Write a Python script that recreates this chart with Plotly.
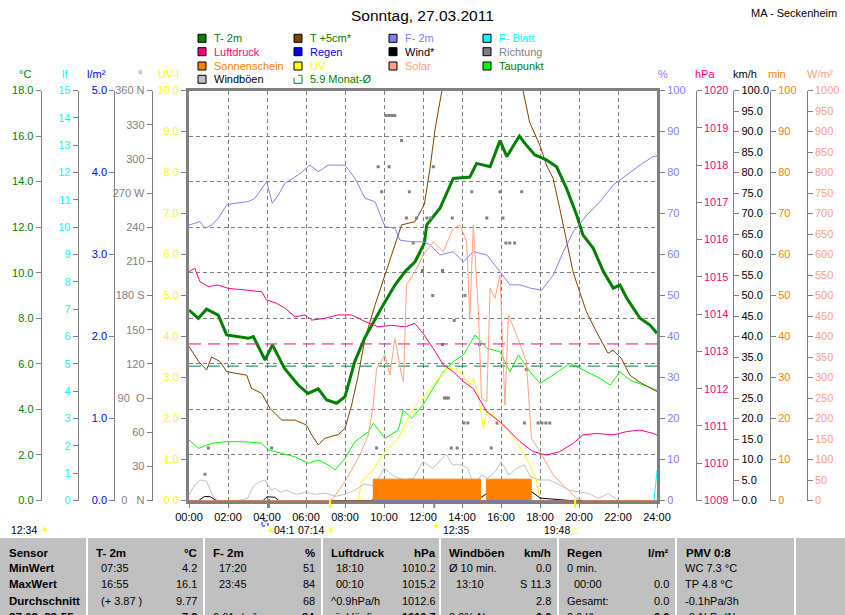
import plotly.graph_objects as go

W, H = 845, 615
def PX(x): return x / W
def PY(y): return 1 - y / H

FONT = "Liberation Sans, Arial, sans-serif"
GRAY = "#808080"

# ---------------- data (hours of day / values) ----------------
hour_ticks = list(range(0, 25, 2))
hour_labels = ["%02d:00" % h for h in hour_ticks]

t2m_h = [0, 0.48, 0.9, 1.5, 1.93, 3.04, 3.3, 3.9, 4.28, 4.9, 5.6, 6.1, 6.63, 7.06, 7.57, 8.0, 8.5, 9.0, 9.86, 10.56,
         11.08, 11.59, 12.07, 12.19, 12.87, 13.55, 14.4, 14.75, 15.44, 15.95, 16.3, 16.94, 17.3, 17.74, 18.34, 18.85,
         19.36, 19.88, 20.2, 20.73, 21.25, 21.76, 22.1, 22.45, 23.13, 23.64, 24.0]
t2m = [8.36, 8.0, 8.4, 8.14, 7.27, 7.12, 7.2, 6.17, 6.83, 5.8, 5.07, 4.7, 4.9, 4.41, 4.27, 4.56, 6.1, 7.12, 8.44, 9.46,
       10.05, 10.48, 11.3, 12.1, 12.83, 14.14, 14.2, 14.8, 14.65, 15.8, 15.1, 16.0, 15.6, 15.17, 14.95, 14.65,
       13.7, 12.53, 11.66, 11.07, 10.05, 9.32, 9.46, 8.88, 8.0, 7.7, 7.34]

t5_h = [0, 0.5, 0.9, 1.16, 1.59, 1.93, 2.96, 3.2, 3.73, 4.15, 4.75, 5.44, 6.03, 6.29, 6.63, 6.97, 7.66, 8.0, 8.34, 8.68,
        9.03, 9.54, 10.05, 10.56, 10.9, 11.59, 12.07, 12.36, 12.62, 12.96, 13.5, 14.5, 15.5, 16.5, 17.13, 17.47, 17.99,
        18.33, 18.67, 19.01, 19.35, 19.69, 20.03, 20.38, 20.8, 21.23, 21.49, 21.74, 22.17, 22.6, 23.1, 24.0]
t5 = [6.76, 6.1, 5.73, 6.3, 6.1, 5.66, 5.5, 4.93, 4.7, 4.05, 3.53, 3.53, 3.31, 2.88, 2.44, 2.73, 2.9, 3.17, 4.19, 5.5,
      7.13, 8.58, 9.9, 11.2, 12.1, 12.24, 13.0, 14.58, 16.3, 17.95, 21.0, 24.0, 24.5, 21.5, 18.0, 16.6, 15.6,
      14.73, 14.14, 12.83, 11.36, 10.05, 9.17, 8.29, 7.56, 6.83, 6.46, 6.6, 6.24, 5.51, 5.2, 4.78]

f2_h = [0, 0.56, 0.82, 1.16, 1.5, 1.93, 2.36, 3.04, 3.38, 3.73, 3.98, 4.27, 4.58, 4.92, 5.6, 6.2, 6.63, 7.14, 7.66, 8.0,
        8.51, 9.03, 9.54, 10.05, 10.56, 10.82, 11.42, 12.07, 12.36, 12.87, 13.55, 14.07, 14.58, 15.27, 15.95, 16.46,
        16.97, 17.49, 18.09, 18.68, 19.2, 19.71, 20.4, 21.08, 21.76, 22.45, 23.13, 23.8, 24.0]
f2 = [67.2, 68, 66.4, 67.2, 68.8, 72.1, 72.5, 72.9, 73.7, 76.1, 77.8, 72.5, 74.5, 77.4, 79.4, 81.8, 80.2, 81.8, 81.8, 81.8,
      78.6, 73.7, 72.9, 66.8, 66.4, 63.5, 63.1, 63.1, 62.3, 59.9, 60.7, 58.2, 60.7, 59.9, 55.8, 52.6,
      52.6, 51.8, 51.3, 55, 60.7, 65.6, 69.6, 72.9, 77, 79.4, 81.8, 83.9, 84]

p_h = [0, 0.3, 0.56, 0.99, 1.5, 2.02, 2.87, 3.73, 3.98, 4.5, 4.92, 5.44, 5.95, 6.29, 6.97, 7.66, 8.34, 9.03, 9.7, 10.39,
       11.08, 11.59, 12.0, 12.53, 13.04, 13.55, 14.07, 14.58, 15.27, 15.95, 16.46, 16.97, 17.65, 18.34, 19.0, 19.7,
       20.2, 20.9, 21.76, 22.45, 23.13, 23.8, 24.0]
p = [1015.14, 1015.23, 1014.87, 1014.74, 1014.78, 1014.69, 1014.65, 1014.6, 1014.38, 1014.29, 1014.16, 1013.93,
     1013.98, 1013.84, 1013.89, 1013.98, 1013.98, 1013.8, 1013.66, 1013.7, 1013.66, 1013.75, 1013.48, 1013.08,
     1012.64, 1012.46, 1012.19, 1012.0, 1011.38, 1011.11, 1010.85, 1010.58, 1010.31, 1010.22, 1010.31, 1010.53,
     1010.76, 1010.8, 1010.76, 1010.85, 1010.89, 1010.8, 1010.75]

dp_h = [0, 0.48, 1.16, 1.85, 2.87, 3.73, 4.07, 4.75, 5.44, 6.12, 6.63, 7.14, 7.49, 8.0, 8.51, 9.2, 9.45, 10.05, 10.73,
        10.99, 11.42, 12.0, 12.53, 13.04, 13.55, 14.07, 14.67, 15.27, 15.95, 16.46, 16.89, 17.49, 18.0, 18.68, 19.54,
        20.4, 21.08, 21.6, 22.1, 22.6, 23.3, 24.0]
dp = [2.66, 2.29, 2.51, 2.58, 2.58, 2.51, 2.22, 2.07, 1.92, 1.63, 1.78, 1.56, 1.34, 1.85, 2.58, 3.02, 3.39, 2.73, 3.09,
      3.97, 3.61, 4.2, 4.93, 5.65, 6.1, 6.39, 7.27, 6.68, 6.53, 5.65, 6.39, 5.65, 5.14, 5.51, 6.02,
      5.65, 5.36, 5.07, 5.65, 5.29, 5.07, 4.85]

sol_h = [0, 7.3, 8.0, 8.68, 9.2, 9.45, 9.62, 10.05, 10.3, 10.56, 10.9, 11.0, 11.15, 11.59, 12.0, 12.53, 13.04, 13.55,
         13.9, 14.24, 14.4, 14.58, 14.84, 15.0, 15.27, 15.44, 15.69, 15.95, 16.2, 16.38, 16.8, 17.3, 17.56, 18.0,
         18.68, 19.37, 19.88, 20.2, 24.0]
sol = [0, 0, 46, 103, 160, 233, 322, 355, 306, 396, 306, 290, 526, 558, 598, 631, 607, 664,
       672, 631, 444, 672, 461, 249, 241, 518, 493, 550, 233, 452, 404, 339, 152, 119,
       62, 30, 5, 0, 0]

uv_h = [8.68, 8.85, 9.37, 10.05, 10.73, 11.42, 12.0, 12.53, 13.21, 13.55, 13.9, 14.4, 14.58, 14.84, 15.1, 15.27,
        15.6, 15.95, 16.3, 16.8, 17.3, 17.8, 18.0]
uv = [0, 0.46, 0.7, 1.19, 1.52, 2.17, 2.5, 2.82, 3.22, 3.22, 3.14, 2.82, 2.98, 2.57, 1.76, 2.17,
      2.09, 1.84, 1.76, 1.43, 1.03, 0.54, 0]

gust_h = [0, 0.3, 0.6, 0.9, 1.2, 1.5, 2.0, 2.5, 3.0, 3.3, 3.6, 3.9, 4.2, 4.4, 4.7, 5.0, 5.5, 6.0, 6.5, 7.0, 7.5, 8.0,
          8.5, 9.0, 9.5, 10.0, 10.5, 11.0, 11.5, 12.0, 12.5, 13.0, 13.2, 13.5, 14.0, 14.3, 14.6, 15.0, 15.3, 15.7,
          16.0, 16.4, 16.8, 17.2, 17.5, 18.0, 18.5, 19.0, 19.5, 20.0, 20.5, 21.0, 21.5, 22.0, 23.0, 24.0]
gust = [1.3, 3.8, 5.0, 4.7, 1.3, 0, 0, 0, 0.5, 3.5, 4.5, 5.0, 2.5, 3.0, 2.0, 2.5, 1.5, 2.0, 1.5, 1.8, 1.0, 1.5,
        2.5, 4.0, 3.5, 7.8, 6.0, 5.0, 5.4, 9.5, 7.8, 10.3, 11.3, 8.7, 8.7, 7.8, 3.8, 6.2, 5.4, 7.0,
        9.5, 6.2, 7.8, 8.7, 5.8, 5.0, 5.0, 3.8, 2.5, 2.1, 1.7, 0.5, 1.7, 0, 0, 0]

wind_h = [0, 0.5, 0.8, 1.1, 1.4, 3.8, 4.0, 4.4, 4.6, 9.4, 9.6, 10.5, 11.5, 12.5, 13.5, 14.5, 14.9, 15.3, 16.0, 17.0,
          17.5, 18.0, 18.5, 19.5, 24]
wind = [0, 0, 1.0, 0.9, 0, 0, 0.9, 0.8, 0, 0, 1.5, 1.8, 1.8, 2.5, 2.2, 2.0, 0.5, 1.8, 2.0, 2.2,
        2.4, 0.6, 0.4, 0, 0]

sun_h = [0, 9.45, 14.95, 15.25, 17.55, 24]
sun_min = [0, 5.2, 0, 5.2, 0, 0]

rain_h = [0, 24]
rain = [0, 0]

leaf_h = [0, 23.85, 24.0]
leaf = [0, 0, 1.1]

dir_h = [0.82, 0.99, 4.24, 9.62, 9.70, 9.88, 10.10, 10.25, 10.40, 10.55, 10.26, 10.90, 11.15, 11.30, 11.50, 11.67,
         11.97, 12.20, 12.40, 12.50, 12.53, 13.00, 13.00, 13.10, 13.20, 13.30, 13.45, 13.50, 13.60, 13.75, 14.10,
         14.15, 14.30, 14.50, 14.90, 15.27, 15.50, 15.80, 15.95, 16.10, 16.25, 16.45, 16.70, 17.06, 17.20, 17.30,
         17.90, 18.10, 18.30, 18.50]
dir_deg = [23, 46, 46, 46, 293, 271, 338, 338, 338, 338, 293, 316, 248, 271, 226, 248, 202, 248, 248, 180, 293, 202,
           137, 90, 90, 90, 46, 248, 158, 46, 68, 180, 68, 271, 137, 248, 46, 68, 271, 248, 226, 226, 226, 271, 68,
           115, 68, 68, 68, 68]

month_avg_temp = 5.9
month_avg_press = 1013.2

for a, b in [(t2m_h, t2m), (t5_h, t5), (f2_h, f2), (p_h, p), (dp_h, dp), (sol_h, sol), (uv_h, uv),
             (gust_h, gust), (wind_h, wind), (sun_h, sun_min), (dir_h, dir_deg), (leaf_h, leaf)]:
    assert len(a) == len(b), (len(a), len(b))

dir_ticks = list(range(0, 361, 30))
dir_labels = ["0   N", "30", "60", "90  O", "120", "150", "180 S", "210", "240", "270 W", "300", "330", "360 N"]

# ---------------- figure ----------------
fig = go.Figure()

def line(x, y, color, yaxis, width=1, name="", dash=None, shape="linear"):
    fig.add_trace(go.Scatter(x=x, y=y, mode="lines", yaxis=yaxis, name=name, hoverinfo="skip",
                             line=dict(color=color, width=width, dash=dash, shape=shape)))

fig.add_trace(go.Scatter(x=rain_h, y=rain, mode="lines", yaxis="y3", line=dict(color="#0000FF", width=1)))
fig.add_trace(go.Scatter(x=sun_h, y=sun_min, mode="lines", yaxis="y9", fill="tozeroy", fillcolor="#FF8000",
                         line=dict(color="#FF8000", width=1, shape="hv")))
line(gust_h, gust, "#C0C0C0", "y8")
line(wind_h, wind, "#000000", "y8")
line(leaf_h, leaf, "#00FFFF", "y2")
fig.add_trace(go.Scatter(x=dir_h, y=dir_deg, mode="markers", yaxis="y4",
                         marker=dict(symbol="square", size=3, color=GRAY, line=dict(width=0))))
line(f2_h, f2, "#8080FF", "y6")
line(p_h, p, "#FF0080", "y7")
line(dp_h, dp, "#00FF00", "y")
line(sol_h, sol, "#FFA080", "y10")
line(uv_h, uv, "#FFFF00", "y5")
line(t5_h, t5, "#804000", "y")
line([0, 24], [month_avg_press] * 2, "#FF0080", "y7", dash="12px,7px")
line([0, 24], [month_avg_temp] * 2, "#008040", "y", dash="12px,7px")
line(t2m_h, t2m, "#008000", "y", width=3)

XD = [PX(189), PX(657)]
YD = [PY(500.5), PY(90.5)]

def yax(rng, dtick, color, side="left", position=None, anchor="free", fmt=None, tickvals=None, ticktext=None,
        lw=1, main=False):
    d = dict(range=rng, domain=YD, side=side, anchor=anchor, showline=True, linecolor=GRAY, linewidth=lw,
             ticks="outside", ticklen=5, tickcolor=GRAY, tickwidth=1, automargin=False,
             tickfont=dict(family=FONT, size=11, color=color), showgrid=False, zeroline=False, fixedrange=True)
    if position is not None:
        d["position"] = position
    if tickvals is not None:
        d["tickmode"] = "array"
        d["tickvals"] = tickvals
        d["ticktext"] = ticktext
    else:
        d["tick0"] = rng[0]
        d["dtick"] = dtick
    if fmt:
        d["tickformat"] = fmt
    if not main:
        d["overlaying"] = "y"
    return d

layout_axes = dict(
    xaxis=dict(domain=XD, range=[0, 24], tickmode="array", tickvals=hour_ticks, ticktext=hour_labels,
               showline=True, linewidth=3, linecolor=GRAY, mirror=True, ticks="outside", ticklen=4,
               tickcolor=GRAY, tickfont=dict(family=FONT, size=11, color="black"), showgrid=True,
               gridcolor=GRAY, griddash="4px,3px", gridwidth=1, zeroline=False, fixedrange=True, automargin=False),
    yaxis=yax([0, 18], 2, "#008000", position=PX(40.7), fmt=".1f", main=True),
    yaxis2=yax([0, 15], 1, "#00FFFF", position=PX(77.7)),
    yaxis3=yax([0, 5], 1, "#0000FF", position=PX(114.3), fmt=".1f"),
    yaxis4=yax([0, 360], 30, GRAY, position=PX(151.7), tickvals=dir_ticks, ticktext=dir_labels),
    yaxis5=yax([0, 10], 1, "#FFFF00", anchor="x", fmt=".1f", lw=3),
    yaxis6=yax([0, 100], 10, "#8080FF", side="right", anchor="x", lw=3),
    yaxis7=yax([1009, 1020], 1, "#FF0080", side="right", position=PX(695.7)),
    yaxis8=yax([0, 100], 5, "#000000", side="right", position=PX(733.3), fmt=".1f"),
    yaxis9=yax([0, 100], 10, "#FF8000", side="right", position=PX(770)),
    yaxis10=yax([0, 1000], 50, "#FFA080", side="right", position=PX(806.7)),
)
layout_axes["yaxis"]["showgrid"] = True
layout_axes["yaxis"]["gridcolor"] = GRAY
layout_axes["yaxis"]["griddash"] = "4px,3px"

ann = []
shapes = []

def text(x, y, s, color="black", size=11, anchor="left", bold=False, family=FONT):
    if bold:
        s = "<b>%s</b>" % s
    ann.append(dict(x=PX(x), y=PY(y), xref="paper", yref="paper", text=s, showarrow=False,
                    xanchor=anchor, yanchor="middle", font=dict(family=family, size=size, color=color),
                    borderpad=0))

# title
text(422, 15, "Sonntag, 27.03.2011", size=15.5, anchor="center")
text(838, 13, "MA - Seckenheim", size=11, anchor="right")

# axis unit titles
for x, s, c in [(25, "°C", "#008000"), (65, "lf", "#00FFFF"), (96, "l/m²", "#0000FF"), (140, "°", GRAY),
                (168, "UV-I", "#FFFF00"), (663, "%", "#8080FF"), (705, "hPa", "#FF0080"), (745, "km/h", "black"),
                (777, "min", "#FF8000"), (820, "W/m²", "#FFA080")]:
    text(x, 74, s, color=c, anchor="center")

# legend
legend = [
    (198, 38.3, "#008000", "T- 2m", "#008000"),
    (198, 51.7, "#FF0080", "Luftdruck", "#FF0080"),
    (198, 66.0, "#FF8000", "Sonnenschein", "#FF8000"),
    (198, 79.3, "#C0C0C0", "Windböen", "black"),
    (294, 38.3, "#804000", "T +5cm*", "#008000"),
    (294, 51.7, "#0000FF", "Regen", "#0000FF"),
    (294, 66.0, "#FFFF00", "UV", "#FFFF00"),
    (389, 38.3, "#8080FF", "F- 2m", "#8080FF"),
    (389, 51.7, "#000000", "Wind*", "black"),
    (389, 66.0, "#FFA080", "Solar", "#FFA080"),
    (483, 38.3, "#00FFFF", "F- Blatt", "#00FFFF"),
    (483, 51.7, "#808080", "Richtung", GRAY),
    (483, 66.0, "#00FF00", "Taupunkt", "#008000"),
]
for x, y, fc, s, tc in legend:
    shapes.append(dict(type="rect", xref="paper", yref="paper", x0=PX(x), x1=PX(x + 8), y0=PY(y + 4),
                       y1=PY(y - 4), fillcolor=fc, line=dict(color="black", width=1)))
    text(x + 14.5, y, s, color=tc)
# Monat-Ø icon
shapes.append(dict(type="path", xref="paper", yref="paper",
                   path="M %f,%f L %f,%f L %f,%f L %f,%f L %f,%f" % (
                       PX(298), PY(75.3), PX(302), PY(75.3), PX(302), PY(83.3), PX(294), PY(83.3), PX(294), PY(78)),
                   line=dict(color="#008040", width=1)))
text(308.5, 79.3, "5.9 Monat-Ø", color="#008000")

# sun / moon events under the time axis
event_h = [4.1, 7.23, 12.58, 19.8]
event_col = [GRAY, "#FFFF00", GRAY, "#FFFF00"]
for h, c in zip(event_h, event_col):
    shapes.append(dict(type="line", xref="x", yref="paper", x0=h, x1=h, y0=PY(499), y1=PY(508),
                       line=dict(color=c, width=2)))
EV_Y = 529.5
text(10, EV_Y, "12:34", size=10.5)
text(40, EV_Y - 1, "▲", color="#FFFF00", size=8)
shapes.append(dict(type="rect", xref="paper", yref="paper", x0=PX(262), x1=PX(268), y0=PY(526), y1=PY(521),
                   line=dict(color="#0000FF", width=1, dash="dot")))
text(266, EV_Y, "▲", color="#FFFF00", size=8)
text(273, EV_Y, "04:1", size=10.5)
text(297, EV_Y, "07:14", size=10.5)
text(325, EV_Y, "☀", color="#FFFF00", size=11)
text(431, EV_Y - 3, "▼", color="#FFFF00", size=8)
text(442, EV_Y, "12:35", size=10.5)
text(543, EV_Y, "19:48", size=10.5)
text(572, EV_Y + 1, "□", color="#FFFF00", size=9)

# bottom table
shapes.append(dict(type="rect", xref="paper", yref="paper", x0=0, x1=1, y0=PY(615), y1=PY(538),
                   fillcolor="#C0C0C0", line=dict(width=0), layer="below"))
for x in [87, 204, 322, 440, 558, 676, 795]:
    shapes.append(dict(type="line", xref="paper", yref="paper", x0=PX(x), x1=PX(x), y0=PY(615), y1=PY(538),
                       line=dict(color="white", width=2)))

row_y = [552.7, 568.3, 584.3, 600.7, 616.8]
row_labels = ["Sensor", "MinWert", "MaxWert", "Durchschnitt", "27.03. 23:55"]
for y, s in zip(row_y, row_labels):
    text(8, y, s, bold=True, size=11.5)

# columns: (left x for header, left x for rows, right x)
cols = [
    (95, 100, 198, "T- 2m", "°C",
     [("07:35", "4.2"), ("16:55", "16.1"), ("(+ 3.87 )", "9.77"), ("", "7.3")]),
    (212, 218, 316, "F- 2m", "%",
     [("17:20", "51"), ("23:45", "84"), ("", "68"), ("6.61g/m³", "84")]),
    (330, 335, 437, "Luftdruck", "hPa",
     [("18:10", "1010.2"), ("00:10", "1015.2"), ("^0.9hPa/h", "1012.6"), ("rückläufig", "1010.7")]),
    (448, 455, 552, "Windböen", "km/h",
     [("Ø 10 min.", "0.0"), ("13:10", "S 11.3"), ("", "2.8"), ("0.0% N", "0.0")]),
    (566, 573, 670, "Regen", "l/m²",
     [("0 min.", ""), ("00:00", "0.0"), ("Gesamt:", "0.0"), ("0.0 l/h", "0.0")]),
]
for hx, rx, rr, hname, unit, rows in cols:
    text(hx, row_y[0], hname, bold=True, size=11.5)
    text(rr, row_y[0], unit, bold=True, size=11.5, anchor="right")
    for i, (ls, rs) in enumerate(rows):
        y = row_y[i + 1]
        last = i == 3
        lx = hx if ls in ("Ø 10 min.", "0 min.", "Gesamt:", "^0.9hPa/h", "6.61g/m³", "rückläufig", "0.0% N",
                          "0.0 l/h") else rx
        if ls:
            text(lx, y, ls)
        if rs:
            text(rr, y, rs, anchor="right", bold=last)
text(685, row_y[0], "PMV 0:8", bold=True, size=11.5)
for y, s in zip(row_y[1:], ["WC 7.3 °C", "TP 4.8 °C", "-0.1hPa/3h", "-0.1hPa/1h"]):
    text(684, y, s)

fig.update_layout(
    width=W, height=H, autosize=False, margin=dict(l=0, r=0, t=0, b=0, pad=0, autoexpand=False),
    paper_bgcolor="white", plot_bgcolor="white", showlegend=False,
    annotations=ann, shapes=shapes, **layout_axes,
)

fig.write_html("out.html", config={"displayModeBar": False, "staticPlot": True},
               post_script="document.body.style.margin='0';document.body.style.overflow='hidden';")
